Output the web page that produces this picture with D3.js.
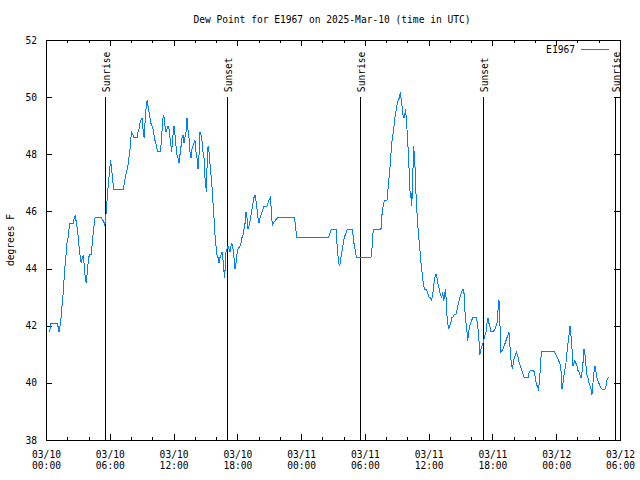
<!DOCTYPE html>
<html><head><meta charset="utf-8">
<script src="https://cdn.jsdelivr.net/npm/d3@7"></script>
<style>
body{margin:0;background:#fff}
text{font-family:"DejaVu Sans Mono",monospace;font-size:9.6px;fill:#000}
</style>
</head><body>
<svg id="chart" width="640" height="480"></svg>
<script>
const chartTitle = "Dew Point for E1967 on 2025-Mar-10 (time in UTC)";
const yAxisLabel = "degrees F";
const seriesName = "E1967";
const yTicks = [38, 40, 42, 44, 46, 48, 50, 52];
const sunEventHours = [5.48, 16.96, 29.49, 41.04, 53.50];
const sunEventLabels = ["Sunrise", "Sunset", "Sunrise", "Sunset", "Sunrise"];

// hours since 2025-03-10 00:00 UTC
const obsHours = [
0.19,0.28,0.38,0.94,1.03,1.13,1.22,1.32,1.41,1.51,1.60,1.69,1.79,1.88,1.98,2.07,2.16,2.48,2.57,2.67,
2.76,2.85,2.95,3.04,3.14,3.23,3.32,3.42,3.51,3.60,3.70,3.79,3.89,3.98,4.14,4.23,4.33,4.42,4.52,5.14,
5.24,5.33,5.43,5.52,5.61,5.71,5.80,5.90,5.99,6.08,6.18,6.27,7.18,7.27,7.37,7.46,7.56,7.65,7.74,7.84,
7.90,7.96,8.09,8.18,8.47,8.56,8.65,8.75,8.84,8.94,9.03,9.13,9.22,9.31,9.41,9.50,9.60,9.69,9.78,9.88,
9.97,10.07,10.16,10.25,10.35,10.44,10.54,10.63,10.72,10.79,10.88,10.94,11.04,11.10,11.19,11.29,11.38,11.48,11.57,11.67,
11.73,11.79,11.88,11.95,12.04,12.14,12.23,12.32,12.42,12.51,12.61,12.70,12.79,12.89,12.98,13.08,13.17,13.26,13.36,13.45,
13.55,13.64,13.73,13.83,13.92,14.02,14.11,14.21,14.30,14.39,14.49,14.58,14.68,14.77,14.86,14.93,14.99,15.05,15.15,15.24,
15.33,15.43,15.52,15.62,15.71,15.80,15.90,15.99,16.09,16.18,16.27,16.37,16.46,16.53,16.59,16.65,16.71,16.77,16.84,16.93,
17.03,17.12,17.22,17.31,17.40,17.50,17.59,17.69,17.78,17.87,17.97,18.16,18.25,18.34,18.44,18.53,18.63,18.72,18.81,18.91,
19.00,19.10,19.19,19.29,19.38,19.47,19.57,19.66,19.76,19.85,19.94,20.04,20.13,20.23,20.32,20.41,20.70,20.79,20.88,21.01,
21.10,21.20,21.29,21.48,21.70,23.27,23.36,23.49,26.46,26.56,26.75,27.19,27.25,27.31,27.40,27.50,27.59,27.69,27.78,27.87,
27.97,28.06,28.25,28.69,28.79,28.88,28.97,29.07,29.16,30.48,30.57,30.64,30.70,31.42,31.48,31.58,31.67,31.77,31.98,32.05,
32.14,32.20,32.30,32.39,32.49,32.58,32.67,32.77,32.86,32.96,33.05,33.14,33.24,33.33,33.43,33.52,33.58,33.65,33.71,33.80,
33.90,33.99,34.05,34.12,34.18,34.24,34.31,34.37,34.43,34.50,34.56,34.62,34.68,34.74,34.84,34.93,35.03,35.12,35.21,35.31,
35.40,35.50,35.68,35.78,35.87,35.97,36.06,36.19,36.28,36.38,36.47,36.56,36.66,36.75,36.85,36.94,37.04,37.13,37.22,37.32,
37.41,37.47,37.54,37.60,37.70,37.79,37.88,37.98,38.07,38.17,38.29,38.45,38.54,38.64,38.73,38.82,38.92,39.01,39.11,39.20,
39.26,39.32,39.42,39.51,39.58,39.67,39.77,39.86,39.95,40.05,40.14,40.42,40.52,40.61,40.67,40.73,40.83,40.92,41.02,41.14,
41.30,41.39,41.49,41.58,41.67,41.77,41.96,42.15,42.24,42.33,42.40,42.46,42.52,42.59,42.65,42.71,42.90,43.09,43.27,43.37,
43.46,43.53,43.59,43.68,43.78,43.87,43.96,44.06,44.15,44.25,44.34,44.43,44.53,44.62,44.72,44.90,45.09,45.28,45.37,45.47,
45.75,45.84,45.94,46.03,46.12,46.22,46.31,46.41,46.50,47.76,47.86,48.04,48.23,48.33,48.38,48.45,48.54,48.64,48.73,48.82,
48.92,49.01,49.11,49.20,49.29,49.39,49.48,49.58,49.67,49.76,49.86,49.95,50.05,50.14,50.24,50.33,50.42,50.52,50.61,50.71,
50.80,50.89,50.99,51.08,51.18,51.27,51.36,51.46,51.55,51.65,51.74,51.83,51.93,52.02,52.21,52.49,52.59,52.68,52.78,52.87
];
const dewPoint = [
41.8,41.9,42.1,42.1,42.0,41.8,42.0,42.3,42.7,43.1,43.6,44.1,44.5,44.9,45.1,45.4,45.6,45.6,45.8,45.9,
45.6,45.4,45.1,44.7,44.4,44.2,44.4,44.5,44.1,43.7,43.5,43.9,44.3,44.5,44.5,44.8,45.2,45.5,45.8,45.8,
45.7,45.7,45.5,45.8,46.2,46.7,47.1,47.5,47.8,47.5,47.1,46.8,46.8,47.0,47.2,47.4,47.5,47.7,48.0,48.3,
48.6,48.8,48.7,48.6,48.6,48.8,48.9,49.1,49.2,49.3,48.9,48.6,49.1,49.6,49.9,49.7,49.5,49.3,49.1,49.0,
48.9,48.7,48.5,48.4,48.2,48.1,48.1,48.1,48.3,48.7,49.1,49.4,49.3,49.0,48.8,48.9,49.0,48.9,48.6,48.3,
48.1,48.4,48.8,49.0,48.7,48.3,48.0,47.9,47.7,48.0,48.3,48.6,48.7,48.4,48.6,48.8,49.3,48.9,48.6,48.1,
47.9,48.2,48.3,48.4,48.5,48.1,47.9,47.5,48.0,48.8,48.7,48.5,48.1,47.9,47.2,47.0,46.7,47.5,48.3,48.1,
47.7,47.3,46.9,46.3,45.8,45.2,44.8,44.5,44.4,44.2,44.4,44.5,44.6,44.4,44.2,43.9,43.7,44.1,44.6,44.7,
44.8,44.7,44.6,44.8,44.9,44.7,44.4,44.0,44.2,44.5,44.7,44.8,44.9,45.1,45.2,45.4,45.6,46.0,45.8,45.4,
45.5,45.7,45.9,46.1,46.3,46.5,46.6,46.4,46.1,45.8,45.6,45.8,45.9,46.0,46.1,46.2,46.2,46.3,46.4,46.5,
46.1,45.5,45.6,45.7,45.8,45.8,45.6,45.1,45.1,45.2,45.4,45.4,45.1,44.7,44.4,44.1,44.2,44.5,44.7,44.9,
45.1,45.2,45.4,45.4,45.2,44.9,44.7,44.5,44.4,44.4,44.7,45.1,45.4,45.4,45.8,46.1,46.3,46.4,46.4,46.7,
47.0,47.3,47.7,48.2,48.6,48.8,49.1,49.4,49.6,49.8,49.9,50.0,50.2,49.9,49.6,49.3,49.4,49.3,49.6,49.3,
48.7,48.1,47.6,47.0,46.5,46.7,46.2,46.7,47.5,48.3,47.9,47.6,47.1,46.3,45.8,45.3,44.9,44.5,44.1,43.8,
43.5,43.3,43.3,43.2,43.1,43.0,43.0,42.9,43.1,43.4,43.7,43.8,43.8,43.5,43.4,43.2,43.1,43.0,43.2,42.9,
43.1,43.3,43.0,42.5,42.1,41.9,42.0,42.1,42.3,42.3,42.4,42.4,42.5,42.7,42.8,43.0,43.1,43.2,43.3,43.3,
43.0,42.5,42.1,41.8,41.5,41.8,42.0,42.1,42.2,42.3,42.3,42.3,42.0,41.7,41.3,41.0,41.2,41.3,41.4,41.6,
41.8,42.1,42.3,42.1,42.0,41.8,41.8,41.9,42.0,42.1,42.4,42.7,42.9,42.4,41.6,41.1,41.2,41.4,41.6,41.7,
41.8,41.4,41.1,40.7,40.5,40.7,40.9,41.0,41.1,41.0,40.9,40.7,40.6,40.5,40.4,40.2,40.2,40.2,40.4,40.45,
40.45,40.4,40.2,40.0,39.9,39.8,40.0,40.5,41.1,41.1,41.0,40.9,40.7,40.6,40.3,39.8,40.0,40.3,40.5,40.7,
41.1,41.4,41.7,42.0,41.7,41.2,40.6,40.7,40.8,40.7,40.6,40.45,40.4,40.3,40.2,40.4,40.7,41.2,41.0,40.6,
40.3,40.2,40.0,39.9,39.8,39.6,40.0,40.4,40.6,40.4,40.2,40.1,40.0,39.9,39.8,39.8,39.9,40.1,40.2,40.2
];

const t0 = Date.UTC(2025, 2, 10, 0, 0);
const toDate = h => new Date(t0 + h * 3600e3);
const data = obsHours.map((h, i) => ({ t: toDate(h), v: dewPoint[i] }));

const svg = d3.select("#chart");
svg.append("rect").attr("width", 640).attr("height", 480).attr("fill", "#fff");

const x = d3.scaleUtc().domain([toDate(0), toDate(54)]).range([46, 620]);
const y = d3.scaleLinear().domain([38, 52]).range([440, 40]);

const majorTicks = d3.utcHour.every(6).range(toDate(0), toDate(54.01));
const minorTicks = d3.utcHour.every(2).range(toDate(0), toDate(54.01)).filter(d => d.getUTCHours() % 6 !== 0);

const fmtDay = d3.utcFormat("%m/%d"), fmtTime = d3.utcFormat("%H:%M");

function styleAxis(g) {
  g.select(".domain").remove();
  g.selectAll("line").attr("stroke", "#000").attr("shape-rendering", "crispEdges");
  g.selectAll("text").attr("font-family", null).attr("font-size", null);
}

// bottom axis
svg.append("g").attr("transform", "translate(0,440)")
  .call(d3.axisBottom(x).tickValues(minorTicks).tickSize(-3).tickFormat(""))
  .call(styleAxis);
const bottom = svg.append("g").attr("transform", "translate(0,440)")
  .call(d3.axisBottom(x).tickValues(majorTicks).tickSize(-6).tickFormat(d => fmtDay(d)))
  .call(styleAxis);
bottom.selectAll(".tick text").each(function(d) {
  const t = d3.select(this).attr("y", null).attr("dy", null).text(null);
  t.append("tspan").attr("x", 0).attr("y", 18).text(fmtDay(d));
  t.append("tspan").attr("x", 0).attr("y", 29).text(fmtTime(d));
});
// top axis
svg.append("g").attr("transform", "translate(0,40)")
  .call(d3.axisTop(x).tickValues(minorTicks).tickSize(-3).tickFormat(""))
  .call(styleAxis);
svg.append("g").attr("transform", "translate(0,40)")
  .call(d3.axisTop(x).tickValues(majorTicks).tickSize(-6).tickFormat(""))
  .call(styleAxis);
// left axis
svg.append("g").attr("transform", "translate(46,0)")
  .call(d3.axisLeft(y).tickValues(yTicks).tickSize(-6).tickPadding(9).tickFormat(d3.format("d")))
  .call(styleAxis);
// right axis
svg.append("g").attr("transform", "translate(620,0)")
  .call(d3.axisRight(y).tickValues(yTicks).tickSize(-6).tickFormat(""))
  .call(styleAxis);

// sunrise / sunset markers
sunEventHours.forEach((h, i) => {
  const sx = Math.floor(x(toDate(h)) + 1) + 0.5;
  svg.append("line").attr("x1", sx).attr("x2", sx)
    .attr("y1", y(50)).attr("y2", y(38))
    .attr("stroke", "#000").attr("shape-rendering", "crispEdges");
  svg.append("text")
    .attr("transform", `translate(${sx + 4.5},${y(50) - 5}) rotate(-90)`)
    .attr("text-anchor", "start")
    .text(sunEventLabels[i]);
});

// data line
const line = d3.line().x(d => x(d.t)).y(d => y(d.v));
svg.append("path").datum(data).attr("d", line)
  .attr("fill", "none").attr("stroke", "#0080ff").attr("stroke-width", 1)
  .attr("transform", "translate(1,0.5)")
  .attr("shape-rendering", "crispEdges");

// frame
svg.append("rect").attr("x", 46.5).attr("y", 40.5).attr("width", 574).attr("height", 400)
  .attr("fill", "none").attr("stroke", "#000").attr("shape-rendering", "crispEdges");

// legend
svg.append("text").attr("x", 575).attr("y", 53).attr("text-anchor", "end").text(seriesName);
svg.append("line").attr("x1", 581).attr("x2", 609).attr("y1", 49.5).attr("y2", 49.5)
  .attr("stroke", "#0080ff").attr("shape-rendering", "crispEdges");

// title
svg.append("text").attr("x", 332).attr("y", 23).attr("text-anchor", "middle").text(chartTitle);
// y label
svg.append("text").attr("transform", "translate(14,240) rotate(-90)")
  .attr("text-anchor", "middle").text(yAxisLabel);
</script>
</body></html>
